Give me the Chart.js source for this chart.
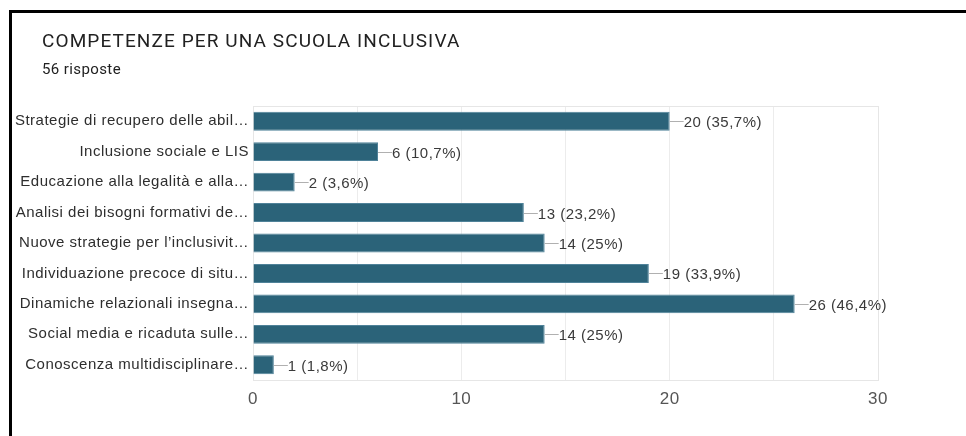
<!DOCTYPE html>
<html>
<head>
<meta charset="utf-8">
<script src="https://cdn.jsdelivr.net/npm/chart.js@4/dist/chart.umd.min.js"></script>
<style>
  html, body { margin: 0; padding: 0; background: #fff; }
  #wrap { position: relative; width: 966px; height: 436px; overflow: hidden; }
  #frame { position: absolute; left: 9px; top: 10px; right: -10px; bottom: -10px;
           border-left: 3px solid #000; border-top: 3px solid #000; }
  #title { position: absolute; left: 42px; top: 29px; font: 19px Roboto, sans-serif; letter-spacing: 1.1px; color: #212121; white-space: nowrap; }
  #subtitle { position: absolute; left: 42px; top: 60px; font: 15px Roboto, sans-serif; letter-spacing: 0.4px; color: #212121; }
  canvas { position: absolute; left: 0; top: 0; }
</style>
</head>
<body>
<div id="wrap">
  <canvas id="chart" width="966" height="436"></canvas>
  <div id="frame"></div>
  <div id="title">COMPETENZE PER UNA SCUOLA INCLUSIVA</div>
  <div id="subtitle">56 risposte</div>
</div>
<script>
// labels as shown (truncated) in the reference
const CATEGORIES = [
  "Strategie di recupero delle abil…",
  "Inclusione sociale e LIS",
  "Educazione alla legalità e alla…",
  "Analisi dei bisogni formativi de…",
  "Nuove strategie per l’inclusivit…",
  "Individuazione precoce di situ…",
  "Dinamiche relazionali insegna…",
  "Social media e ricaduta sulle…",
  "Conoscenza multidisciplinare…",
];
const COUNTS = [20, 6, 2, 13, 14, 19, 26, 14, 1];
const PERCENTS = ["35,7%", "10,7%", "3,6%", "23,2%", "25%", "33,9%", "46,4%", "25%", "1,8%"];
const X_MAX = 30;

const BAR_COLOR = "#2b6379";
const FONT = "'Liberation Sans', Arial, sans-serif";

// the reference text is a bit stretched, so widen it with letter spacing
const spacing = {
  id: "spacing",
  beforeDraw(chart) { chart.ctx.letterSpacing = "0.5px"; },
};

// light frame round the plot area
const framePlugin = {
  id: "plotFrame",
  beforeDatasetsDraw(chart) {
    const a = chart.chartArea;
    const ctx = chart.ctx;
    ctx.save();
    ctx.strokeStyle = "#e6e6e6";
    ctx.lineWidth = 1;
    ctx.strokeRect(a.left + 0.5, a.top + 0.5, a.right - a.left, a.bottom - a.top);
    ctx.restore();
  },
};

// leader line + "n (p%)" next to each bar
const valueLabels = {
  id: "valueLabels",
  afterDatasetsDraw(chart) {
    const ctx = chart.ctx;
    const meta = chart.getDatasetMeta(0);
    ctx.save();
    ctx.font = "15px " + FONT;
    ctx.textBaseline = "middle";
    meta.data.forEach((bar, i) => {
      const x = bar.x, y = Math.round(bar.y) + 0.5;
      ctx.strokeStyle = "#b0b0b0";
      ctx.lineWidth = 1;
      ctx.beginPath();
      ctx.moveTo(x, y);
      ctx.lineTo(x + 14, y);
      ctx.stroke();
      ctx.fillStyle = "#3a3a3a";
      ctx.fillText(COUNTS[i] + " (" + PERCENTS[i] + ")", x + 14, y + 1);
    });
    ctx.restore();
  },
};

new Chart(document.getElementById("chart").getContext("2d"), {
  type: "bar",
  data: {
    labels: CATEGORIES,
    datasets: [
      {
        data: COUNTS,
        backgroundColor: BAR_COLOR,
        borderColor: "#4f8299",
        borderWidth: 1,
        barPercentage: 0.62,
        categoryPercentage: 1,
      },
    ],
  },
  options: {
    indexAxis: "y",
    responsive: false,
    animation: false,
    layout: { padding: { left: 0, right: 88, top: 106, bottom: 26 } },
    plugins: { legend: { display: false }, tooltip: { enabled: false } },
    scales: {
      x: {
        min: 0,
        max: X_MAX,
        ticks: {
          stepSize: 5,
          padding: 9,
          color: "#555",
          font: { family: FONT, size: 17 },
          callback: (v) => (v % 10 === 0 ? v : ""),
        },
        grid: { color: "#ececec", drawTicks: false },
        border: { display: false },
        afterFit: (s) => { s.height = 30; },
      },
      y: {
        ticks: {
          padding: 4,
          color: "#2e2e2e",
          autoSkip: false,
          font: { family: FONT, size: 15 },
        },
        grid: { display: false, drawTicks: false },
        border: { display: true, color: "#444", width: 1 },
        afterFit: (s) => { s.width = 253; },
      },
    },
  },
  plugins: [spacing, framePlugin, valueLabels],
});
</script>
</body>
</html>
